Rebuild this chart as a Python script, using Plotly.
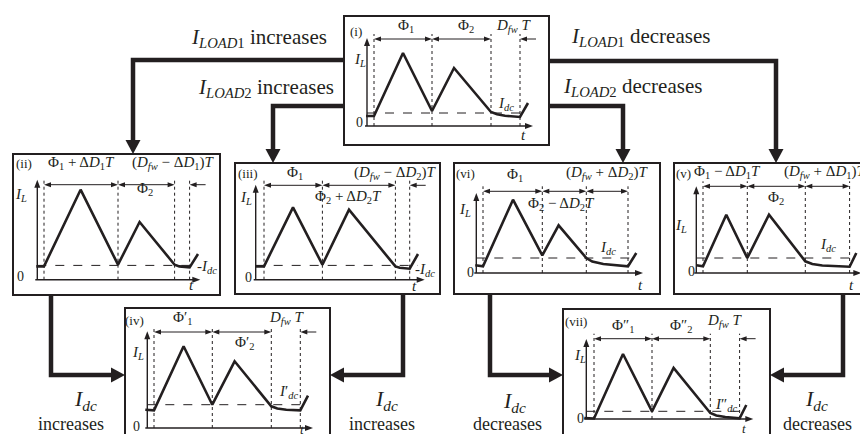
import plotly.graph_objects as go

# ------------------------------------------------------------------ data
# inductor-current waveforms, (t, i_L) breakpoints for each operating case
T_I = [-1, 7, 36, 65, 87, 124, 130, 138, 153, 161]
I_I = [10, 10, 73, 15, 58, 14, 11.8, 10.3, 9, 23]
T_II = [-1, 6.7, 43.3, 80.7, 102.3, 137.3, 142, 147, 152.3, 160.7]
I_II = [13.3, 13.3, 90, 15, 57.7, 15, 13.3, 12.6, 12.3, 25.7]
T_III = [0, 8.3, 37.3, 66.7, 93.3, 139.7, 144, 149, 154, 162.3]
I_III = [13.3, 13.3, 72.3, 15, 70, 13.3, 12, 11.3, 11, 25.7]
T_IV = [-2, 6.7, 36.3, 65, 87.3, 124, 130, 139, 153, 160.7]
I_IV = [18.3, 17.7, 81.7, 23.3, 66.7, 21.7, 19.5, 18.3, 17.7, 32.3]
T_V = [0, 6.7, 30, 51, 72.7, 109, 116, 126, 153.3, 160]
I_V = [7.7, 6.7, 58.3, 15, 58.3, 11.7, 9, 7.5, 6.3, 20]
T_VI = [-1, 6.7, 36.7, 66, 82.3, 110, 116, 127, 151.7, 160]
I_VI = [7.7, 6.7, 73.3, 17.7, 47.7, 15, 11.5, 9, 6.7, 20]
T_VII = [-2, 7.7, 36.7, 65.7, 87.3, 124, 130, 139, 153.3, 160]
I_VII = [1, 0.5, 65, 7.7, 51, 6, 3.5, 2, 0.7, 14]

# interval boundaries (switching instants) and average current I_dc
BOUNDS = {
    "i": [7, 65, 124, 153], "ii": [6.7, 80.7, 137.3, 152.3],
    "iii": [8.3, 66.7, 139.7, 154], "iv": [6.7, 65, 124, 153],
    "v": [6.7, 51, 109, 153.3], "vi": [6.7, 66, 110, 151.7],
    "vii": [7.7, 65.7, 124, 153.3],
}
IDC = {"i": 13, "ii": 14.3, "iii": 14.3, "iv": 23.3, "v": 15, "vi": 15, "vii": 7.7}
WAVES = {"i": (T_I, I_I), "ii": (T_II, I_II), "iii": (T_III, I_III),
         "iv": (T_IV, I_IV), "v": (T_V, I_V), "vi": (T_VI, I_VI),
         "vii": (T_VII, I_VII)}

# text
IL = "<i>I</i><sub><i>L</i></sub>"
IDC_TXT = "<i>I</i><sub><i>dc</i></sub>"
DFWT = "<i>D</i><sub><i>fw</i></sub> <i>T</i>"
LABELS = {
    "i": [("(i)", 348, 23, 13), ("Φ<sub>1</sub>", 398, 18, 15), ("Φ<sub>2</sub>", 458, 18, 15),
          (DFWT, 506, 18, 15), (IL, 352, 52, 15), ("0", 351, 114, 14), ("<i>t</i>", 515, 127, 15),
          (IDC_TXT, 498, 96, 15)],
    "ii": [("(ii)", 16, 155, 13), ("Φ<sub>1</sub> + Δ<i>D</i><sub>1</sub><i>T</i>", 73, 155, 15),
           ("(<i>D</i><sub><i>fw</i></sub> − Δ<i>D</i><sub>1</sub>)<i>T</i>", 165, 155, 15),
           ("Φ<sub>2</sub>", 137, 181, 15), (IL, 13, 187, 15), ("0", 12, 268, 14),
           ("<i>t</i>", 183, 277, 15), ("-" + IDC_TXT, 199, 259, 15)],
    "iii": [("(iii)", 240, 165, 13), ("Φ<sub>1</sub>", 287, 165, 15),
            ("(<i>D</i><sub><i>fw</i></sub> − Δ<i>D</i><sub>2</sub>)<i>T</i>", 387, 165, 15),
            ("Φ<sub>2</sub> + Δ<i>D</i><sub>2</sub><i>T</i>", 340, 189, 15), (IL, 238, 190, 15),
            ("0", 240, 269, 14), ("<i>t</i>", 406, 278, 15), ("-" + IDC_TXT, 417, 262, 15)],
    "iv": [("(iv)", 126, 312, 13), ("Φ′<sub>1</sub>", 175, 310, 15), ("Φ′<sub>2</sub>", 237, 335, 15),
           (DFWT, 279, 310, 15), (IL, 130, 345, 15), ("0", 128, 418, 14), ("<i>t</i>", 294, 421, 13),
           ("<i>I</i>′<sub><i>dc</i></sub>", 281, 384, 15)],
    "v": [("(v)", 675, 165, 13), ("Φ<sub>1</sub> − Δ<i>D</i><sub>1</sub><i>T</i>", 719, 164, 15),
          ("(<i>D</i><sub><i>fw</i></sub> + Δ<i>D</i><sub>1</sub>)<i>T</i>", 817, 164, 15),
          ("Φ<sub>2</sub>", 768, 190, 15), (IL, 673, 218, 15), ("0", 683, 263, 14),
          ("<i>t</i>", 843, 277, 15), (IDC_TXT, 820, 237, 15)],
    "vi": [("(vi)", 457, 165, 13), ("Φ<sub>1</sub>", 507, 167, 15),
           ("(<i>D</i><sub><i>fw</i></sub> + Δ<i>D</i><sub>2</sub>)<i>T</i>", 599, 165, 15),
           ("Φ<sub>2</sub> − Δ<i>D</i><sub>2</sub><i>T</i>", 553, 196, 15), (IL, 457, 202, 15),
           ("0", 462, 264, 14), ("<i>t</i>", 632, 277, 15), (IDC_TXT, 600, 240, 15)],
    "vii": [("(vii)", 568, 313, 13), ("Φ″<sub>1</sub>", 615, 318, 15), ("Φ″<sub>2</sub>", 673, 318, 15),
            (DFWT, 717, 313, 15), (IL, 572, 348, 15), ("0", 572, 410, 14), ("<i>t</i>", 736, 420, 13),
            ("<i>I</i>″<sub><i>dc</i></sub>", 718, 397, 15)],
}
FLOW_LABELS = [
    ("<i>I</i><sub><i>LOAD</i>1</sub> increases", 251, 30, 21),
    ("<i>I</i><sub><i>LOAD</i>2</sub> increases", 258, 80, 21),
    ("<i>I</i><sub><i>LOAD</i>1</sub> decreases", 632, 29, 21),
    ("<i>I</i><sub><i>LOAD</i>2</sub> decreases", 624, 79, 21),
    (IDC_TXT, 77, 392, 22), ("increases", 63, 416, 18),
    (IDC_TXT, 378, 392, 22), ("increases", 374, 416, 18),
    (IDC_TXT, 506, 394, 22), ("decreases", 499, 416, 18),
    (IDC_TXT, 808, 392, 22), ("decreases", 809, 416, 18),
]

# ------------------------------------------------------------------ layout geometry
GEOM = {
    #        box (x0,y0,x1,y1)        origin           yax   xax    row   mode
    "i":   ((336, 8, 541, 137),    (359, 118),     88,   166,   87,   "dfw"),
    "ii":  ((5, 146, 212, 287),    (29.3, 271.7),  100,  163,   95,   "dfw"),
    "iii": ((227, 155, 432, 286),  (247.7, 271.7), 95,   169,   94.4, "dfw"),
    "iv":  ((117, 300, 322, 432),  (139.3, 420),   96.7, 165.7, 96,   "dfw"),
    "v":   ((666, 155, 863, 286),  (688.3, 265),   86.7, 165,   86.7, "three"),
    "vi":  ((446, 155, 652, 286),  (468.3, 265),   80,   166.7, 81.7, "three"),
    "vii": ((555, 301, 762, 432),  (578.3, 411),   80,   167,   80.3, "dfw"),
}
CONNECTORS = [
    [(336, 52), (125, 52), (125, 146)],
    [(336, 98), (265, 98), (265, 155)],
    [(541, 53), (768, 53), (768, 155)],
    [(541, 98), (615, 98), (615, 155)],
    [(43, 287), (43, 367), (117, 367)],
    [(395, 286), (395, 367), (322, 367)],
    [(482, 286), (482, 367), (555, 367)],
    [(835, 286), (835, 367), (762, 367)],
]

INK = "#231f20"
FONT = "Liberation Serif"

fig = go.Figure()
shapes = []
annotations = []


def tri(tip, d, L, W):
    tx, ty = tip
    dx, dy = d
    bx, by = tx - L * dx, ty - L * dy
    px, py = -dy, dx
    return dict(type="path", xref="x", yref="y",
                path=f"M {tx},{ty} L {bx + px * W / 2},{by + py * W / 2} "
                     f"L {bx - px * W / 2},{by - py * W / 2} Z",
                fillcolor=INK, line=dict(width=0))


def line(xs, ys, w, dash="solid"):
    fig.add_trace(go.Scatter(x=xs, y=ys, mode="lines", line=dict(color=INK, width=w, dash=dash),
                             hoverinfo="skip", showlegend=False))


for key, (box, (ox, oy), yax, xax, row, mode) in GEOM.items():
    x0, y0, x1, y1 = box
    shapes.append(dict(type="rect", xref="x", yref="y", x0=x0, y0=y0, x1=x1, y1=y1,
                       line=dict(color=INK, width=2)))
    # axes
    line([ox, ox], [oy, oy - yax + 6], 1.4)
    shapes.append(tri((ox, oy - yax), (0, -1), 8, 6))
    line([ox - 2, ox + xax - 6], [oy, oy], 1.4)
    shapes.append(tri((ox + xax, oy), (1, 0), 8, 6))
    # dotted interval lines
    b = BOUNDS[key]
    for t in b:
        line([ox + t, ox + t], [oy, oy - row - 5], 1, "dot")
    # I_dc dashed
    ts, iv = WAVES[key]
    line([ox, ox + ts[-1]], [oy - IDC[key], oy - IDC[key]], 1, "dash")
    # waveform
    line([ox + t for t in ts], [oy - v for v in iv], 2.6)
    # interval arrows
    ry = oy - row
    segs = [(b[0], b[1]), (b[1], b[2])] + ([(b[2], b[3])] if mode == "three" else [])
    for a, c in segs:
        line([ox + a + 6, ox + c - 6], [ry, ry], 1)
        shapes.append(tri((ox + a, ry), (-1, 0), 7, 5))
        shapes.append(tri((ox + c, ry), (1, 0), 7, 5))
    if mode == "dfw":
        line([ox + b[3] + 6, ox + b[3] + 16], [ry, ry], 1)
        shapes.append(tri((ox + b[3], ry), (-1, 0), 7, 5))
    for txt, x, y, s in LABELS[key]:
        annotations.append(dict(x=x, y=y, xref="x", yref="y", text=txt, showarrow=False,
                                font=dict(family=FONT, size=s, color=INK), borderpad=0,
                                xanchor="center", yanchor="middle"))

for path in CONNECTORS:
    (xa, ya), (xb, yb), (xc, yc) = path
    dx = (xc - xb) / max(abs(xc - xb), 1e-9) if xc != xb else 0
    dy = (yc - yb) / max(abs(yc - yb), 1e-9) if yc != yb else 0
    line([xa, xb, xc - dx * 12], [ya, yb, yc - dy * 12], 4.5)
    shapes.append(tri((xc, yc), (dx, dy), 14, 15))

for txt, x, y, s in FLOW_LABELS:
    annotations.append(dict(x=x, y=y, xref="x", yref="y", text=txt, showarrow=False,
                            font=dict(family=FONT, size=s, color=INK), borderpad=0,
                            xanchor="center", yanchor="middle"))

fig.update_layout(
    width=868, height=434, margin=dict(l=0, r=0, t=0, b=0),
    paper_bgcolor="white", plot_bgcolor="white",
    xaxis=dict(range=[0, 868], visible=False, fixedrange=True),
    yaxis=dict(range=[434, 0], visible=False, fixedrange=True),
    shapes=shapes, annotations=annotations, showlegend=False,
)
fig.write_html("out.html", config={"displayModeBar": False})
